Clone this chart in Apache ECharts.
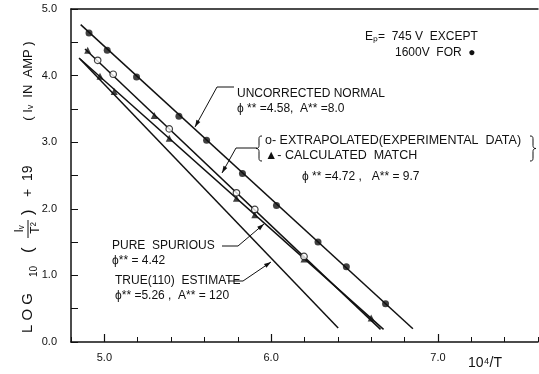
<!DOCTYPE html>
<html>
<head>
<meta charset="utf-8">
<script src="https://cdn.jsdelivr.net/npm/echarts@6/dist/echarts.min.js"></script>
<style>
  html, body { margin: 0; padding: 0; background: #fff; }
  #chart { width: 539px; height: 374px; }
</style>
</head>
<body>
<div id="chart"></div>
<script>
// Richardson plot: log10(Iv/T^2)+19 versus 10^4/T

// axis tick labels
const xTickLabels = [5, 6, 7];
const yTickLabels = [0, 1, 2, 3, 4, 5];

// uncorrected normal (1600 V), filled dots
const normalX = [4.908, 5.017, 5.193, 5.447, 5.613, 5.828, 6.032, 6.281, 6.451, 6.686];
const normalY = [4.64, 4.38, 3.98, 3.39, 3.03, 2.53, 2.05, 1.50, 1.13, 0.575];
const normalFitX = [4.858, 6.850];
const normalFitY = [4.765, 0.20];

// extrapolated experimental data, open circles
const extrapX = [4.96, 5.053, 5.389, 5.792, 5.902, 6.197];
const extrapY = [4.23, 4.02, 3.20, 2.24, 1.99, 1.285];

// calculated match, triangles
const calcX = [4.90, 5.299, 4.974, 5.059, 5.389, 5.792, 5.902, 6.197, 6.60];
const calcY = [4.38, 3.40, 3.99, 3.76, 3.06, 2.16, 1.91, 1.245, 0.36];

// fitted straight lines
const matchFitX = [4.884, 6.656];
const matchFitY = [4.40, 0.19];
const spuriousFitX = [4.848, 6.674];
const spuriousFitY = [4.265, 0.19];
const trueFitX = [4.854, 6.402];
const trueFitY = [4.25, 0.21];

const zip = (xs, ys) => xs.map((x, i) => [x, ys[i]]);
const INK = '#111';
const FONT = '"Liberation Sans", Arial, sans-serif';

const chart = echarts.init(document.getElementById('chart'), null, { renderer: 'canvas' });

function fitLine(xs, ys) {
  return {
    type: 'line', data: zip(xs, ys), symbol: 'none', silent: true,
    lineStyle: { color: INK, width: 1.5 }, z: 2
  };
}

const isWhole = v => Math.abs(v - Math.round(v)) < 1e-6;

// leader lines with arrowheads, in pixels
function arrowHead(tip, from, len, half) {
  const dx = tip[0] - from[0], dy = tip[1] - from[1];
  const d = Math.hypot(dx, dy), ux = dx / d, uy = dy / d;
  const bx = tip[0] - ux * len, by = tip[1] - uy * len;
  return {
    type: 'polygon', z: 10,
    shape: { points: [tip, [bx - uy * half, by + ux * half], [bx + uy * half, by - ux * half]] },
    style: { fill: INK }
  };
}
function leader(points) {
  const n = points.length;
  return [
    { type: 'polyline', z: 10, shape: { points: points }, style: { stroke: INK, lineWidth: 1, fill: null } },
    arrowHead(points[n - 1], points[n - 2], 7, 2.2)
  ];
}
function label(text, x, y, opts) {
  return {
    type: 'text', z: 10, x: x, y: y,
    style: Object.assign({ text: text, fill: INK, font: '12px ' + FONT, align: 'left', verticalAlign: 'middle' }, opts || {})
  };
}
// sampled cubic bezier
function cubic(p0, p1, p2, p3, n) {
  const out = [];
  for (let i = 0; i <= n; i++) {
    const t = i / n, s = 1 - t;
    out.push([
      s * s * s * p0[0] + 3 * s * s * t * p1[0] + 3 * s * t * t * p2[0] + t * t * t * p3[0],
      s * s * s * p0[1] + 3 * s * s * t * p1[1] + 3 * s * t * t * p2[1] + t * t * t * p3[1]
    ]);
  }
  return out;
}
// curly brace spanning y0..y1 at x, opening right (dir = 1) or left (dir = -1)
function brace(x, y0, y1, dir) {
  const m = (y0 + y1) / 2, w = 3 * dir;
  const pts = [].concat(
    cubic([x + w, y0], [x, y0], [x, y0 + 1], [x, y0 + 4], 6),
    [[x, m - 3]],
    cubic([x, m - 3], [x, m - 1], [x - w * 0.3, m], [x - w, m], 5),
    cubic([x - w, m], [x - w * 0.3, m], [x, m + 1], [x, m + 3], 5),
    [[x, y1 - 4]],
    cubic([x, y1 - 4], [x, y1 - 1], [x, y1], [x + w, y1], 6)
  );
  return { type: 'polyline', z: 10, shape: { points: pts }, style: { stroke: INK, lineWidth: 1, fill: null } };
}

// vertical axis title with the Iv/T² fraction, read bottom to top
const yTitle = {
  type: 'group', x: 28, y: 333, rotation: Math.PI / 2, z: 10,
  children: [
    label('L O G', 0, 0, { font: '15px ' + FONT }),
    label('10', 56, 6, { font: '10px ' + FONT }),
    label('(', 80, 0, { font: '17px ' + FONT }),
    label('Iᵥ', 104, -8, { font: '12px ' + FONT, align: 'center' }),
    { type: 'line', shape: { x1: 95, y1: 0, x2: 113, y2: 0 }, style: { stroke: INK, lineWidth: 1 } },
    label('T²', 105, 8, { font: '12px ' + FONT, align: 'center' }),
    label(')', 118, 0, { font: '17px ' + FONT }),
    label('+  19', 136, 0, { font: '14px ' + FONT })
  ]
};
const ampTitle = label('( Iᵥ  IN  AMP )', 28, 81, { align: 'center', font: '13px ' + FONT });
ampTitle.rotation = Math.PI / 2;

const graphics = [].concat(
  leader([[234, 87], [217, 87], [195, 127]]),
  leader([[257, 148], [236, 148], [222, 173]]),
  leader([[222, 246], [238, 246], [264, 224]]),
  leader([[228, 281], [243, 281], [271, 262]]),
  [
    brace(259, 136, 161, 1),
    brace(533, 136, 161, -1),
    label('Eₚ=  745 V  EXCEPT', 365, 37),
    label('1600V  FOR  ●', 395, 53),
    label('UNCORRECTED NORMAL', 237, 94),
    label('ϕ ** =4.58,  A** =8.0', 237, 109),
    label('o- EXTRAPOLATED(EXPERIMENTAL  DATA)', 265, 141, { font: '12.5px ' + FONT }),
    label('▲- CALCULATED  MATCH', 265, 156, { font: '12.5px ' + FONT }),
    label('ϕ ** =4.72 ,   A** = 9.7', 302, 177),
    label('PURE  SPURIOUS', 112, 246),
    label('ϕ** = 4.42', 112, 261),
    label('TRUE(110)  ESTIMATE', 115, 281),
    label('ϕ** =5.26 ,  A** = 120', 115, 296),
    label('10⁴/T', 468, 363, { font: '14px ' + FONT }),
    yTitle,
    ampTitle
  ]
);

const axisCommon = {
  type: 'value', min: 4.8, max: 7.6, interval: 0.2,
  splitLine: { show: false }
};

chart.setOption({
  animation: false,
  backgroundColor: '#fff',
  grid: { left: 71, right: 1, top: 9, bottom: 32, containLabel: false },
  xAxis: [
    Object.assign({}, axisCommon, {
      position: 'bottom',
      axisLine: { show: true, lineStyle: { color: INK, width: 1.5 } },
      axisTick: { show: true, inside: true, length: 8, customValues: xTickLabels, lineStyle: { color: INK, width: 1.2 } },
      axisLabel: { show: true, customValues: xTickLabels, margin: 10, color: INK, fontSize: 11, fontFamily: FONT,
        formatter: v => v.toFixed(1) }
    }),
    Object.assign({}, axisCommon, {
      position: 'bottom',
      axisLine: { show: false },
      axisTick: { show: true, inside: true, length: 5, lineStyle: { color: INK, width: 1 } },
      axisLabel: { show: false }
    }),
    Object.assign({}, axisCommon, {
      position: 'top',
      axisLine: { show: true, lineStyle: { color: INK, width: 1.5 } },
      axisTick: { show: false },
      axisLabel: { show: false }
    })
  ],
  yAxis: {
    type: 'value', min: 0, max: 5, interval: 0.5,
    splitLine: { show: false },
    axisLine: { show: true, lineStyle: { color: INK, width: 1.5 } },
    axisTick: { show: true, inside: true, length: 7, lineStyle: { color: INK, width: 1 } },
    axisLabel: { color: INK, fontSize: 11, fontFamily: FONT, margin: 14,
      formatter: v => isWhole(v) && yTickLabels.indexOf(Math.round(v)) >= 0 ? v.toFixed(1) : '' }
  },
  series: [
    fitLine(normalFitX, normalFitY),
    fitLine(matchFitX, matchFitY),
    fitLine(spuriousFitX, spuriousFitY),
    fitLine(trueFitX, trueFitY),
    {
      type: 'scatter', data: zip(normalX, normalY), symbol: 'circle', symbolSize: 7,
      itemStyle: { color: INK }, z: 4
    },
    {
      type: 'scatter', data: zip(calcX, calcY), symbol: 'triangle', symbolSize: 7,
      itemStyle: { color: INK }, z: 4
    },
    {
      type: 'scatter', data: zip(extrapX, extrapY), symbol: 'circle', symbolSize: 6.5,
      itemStyle: { color: '#fff', borderColor: INK, borderWidth: 1.2 }, z: 5
    }
  ],
  graphic: graphics
});
</script>
</body>
</html>
